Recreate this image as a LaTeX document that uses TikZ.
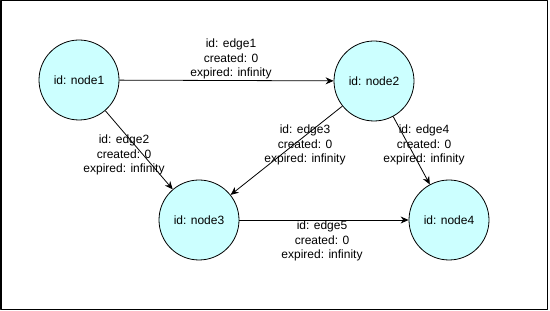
\documentclass[tikz,border=0pt]{standalone}
\usepackage{fontspec}
\setmainfont{Liberation Sans}
\usetikzlibrary{arrows.meta}
\definecolor{nodefill}{HTML}{CCFFFF}
\begin{document}
\begin{tikzpicture}[line join=bevel,
  every node/.style={font=\fontsize{12bp}{14.5bp}\selectfont},
  vertex/.style={circle,draw,fill=nodefill,minimum size=80bp,inner sep=0pt,line width=0.8bp},
  edgelabel/.style={align=center,inner sep=0pt},
  link/.style={-{Stealth[length=8bp,width=7bp]},line width=0.8bp}]
%%
\useasboundingbox (0bp,0bp) rectangle (550bp,311bp);
\draw [line width=1.5bp] (0.75bp,1.5bp) rectangle (547.5bp,310.25bp);
%
\node (n1) at (79.0bp,231.0bp) [vertex] {id: node1};
  \node (n2) at (374.0bp,230.0bp) [vertex] {id: node2};
  \node (n3) at (199.0bp,91.0bp) [vertex] {id: node3};
  \node (n4) at (449.0bp,91.0bp) [vertex] {id: node4};
  \draw [link] (n1) -- (n2);
  \draw [link] (n1) -- (n3);
  \draw [link] (n2) -- (n3);
  \draw [link] (n2) -- (n4);
  \draw [link] (n3) -- (n4);
  \node (l1) at (231.0bp,252.0bp) [edgelabel] {id: edge1\\created: 0\\expired: infinity};
  \node (l2) at (124.0bp,156.0bp) [edgelabel] {id: edge2\\created: 0\\expired: infinity};
  \node (l3) at (305.0bp,166.0bp) [edgelabel] {id: edge3\\created: 0\\expired: infinity};
  \node (l4) at (424.0bp,166.0bp) [edgelabel] {id: edge4\\created: 0\\expired: infinity};
  \node (l5) at (322.0bp,70.0bp) [edgelabel] {id: edge5\\created: 0\\expired: infinity};
%
\end{tikzpicture}
\end{document}
